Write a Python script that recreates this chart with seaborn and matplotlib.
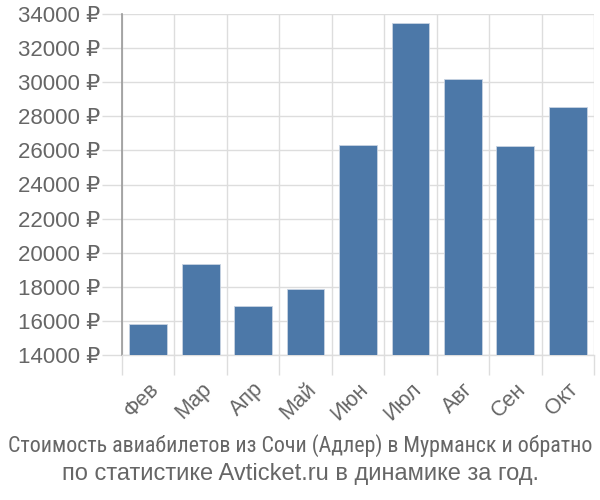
import matplotlib
matplotlib.use("Agg")
import matplotlib.pyplot as plt
import seaborn as sns
import pandas as pd
import numpy as np
from matplotlib.ticker import FixedLocator, FuncFormatter
from matplotlib import font_manager

months = ["Фев", "Мар", "Апр", "Май", "Июн", "Июл", "Авг", "Сен", "Окт"]
prices = [15800, 19350, 16900, 17900, 26300, 33500, 30200, 26250, 28550]
yticks = [14000, 16000, 18000, 20000, 22000, 24000, 26000, 28000, 30000, 32000, 34000]
title_lines = ["Стоимость авиабилетов из Сочи (Адлер) в Мурманск и обратно",
               "по статистике Avticket.ru в динамике за год."]

sns.set_theme(style="white")
plt.rcParams['font.family'] = ['Liberation Sans', 'DejaVu Sans']

names = {f.name for f in font_manager.fontManager.ttflist}
narrow = None
for cand in ["Liberation Sans Narrow", "DejaVu Sans Condensed", "Roboto Condensed", "Open Sans Condensed"]:
    if cand in names:
        narrow = cand
        break

df = pd.DataFrame({"month": months, "price": prices})

fig = plt.figure(figsize=(6, 5), dpi=100)
ax = fig.add_axes([122/600, 1 - 355/500, (594 - 122)/600, (355 - 14)/500])

sns.barplot(data=df, x="month", y="price", color="#4c78a8", saturation=1,
            width=0.72, edgecolor="#c8d3e2", linewidth=0.6, ax=ax, zorder=3)

ax.set_ylim(14000, 34000)
ax.set_xlim(-0.5, len(months) - 0.5)
ax.yaxis.set_major_locator(FixedLocator(yticks))
ax.yaxis.set_major_formatter(FuncFormatter(lambda v, p: f"{int(v)} ₽"))

ax.set_xticks(np.arange(len(months)))
ax.set_xticks(np.arange(len(months) + 1) - 0.5, minor=True)
ax.grid(True, axis="y", which="major", color="#dddddd", lw=1, zorder=0)
ax.grid(True, axis="x", which="minor", color="#dddddd", lw=1, zorder=0)
ax.grid(False, axis="x", which="major")

ax.tick_params(axis="y", which="major", length=14.4, width=1, color="#dddddd",
               labelsize=16, labelcolor="#666666", pad=1, left=True)
ax.tick_params(axis="x", which="major", length=0, labelsize=15.5,
               labelcolor="#666666", pad=17)
ax.tick_params(axis="x", which="minor", length=14.4, width=1, color="#dddddd", bottom=True)
for lbl in ax.get_xticklabels():
    lbl.set_rotation(45)
    lbl.set_ha("right")
    lbl.set_rotation_mode("anchor")

ax.set_xlabel("")
ax.set_ylabel("")
for s in ["top", "right"]:
    ax.spines[s].set_visible(False)
ax.spines["left"].set_color("#999999")
ax.spines["left"].set_linewidth(1.2)
ax.spines["bottom"].set_color("#dddddd")
ax.spines["bottom"].set_linewidth(1)

if narrow:
    fig.text(0.5, 1 - 446/500, title_lines[0], ha="center", va="center",
             fontsize=15.8, color="#666666", family=[narrow, "DejaVu Sans"])
else:
    fig.text(0.5, 1 - 446/500, title_lines[0], ha="center", va="center",
             fontsize=14.5, color="#666666")
fig.text(0.5, 1 - 474/500, title_lines[1], ha="center", va="center",
         fontsize=17, color="#666666")

fig.savefig("out.png", dpi=100)
